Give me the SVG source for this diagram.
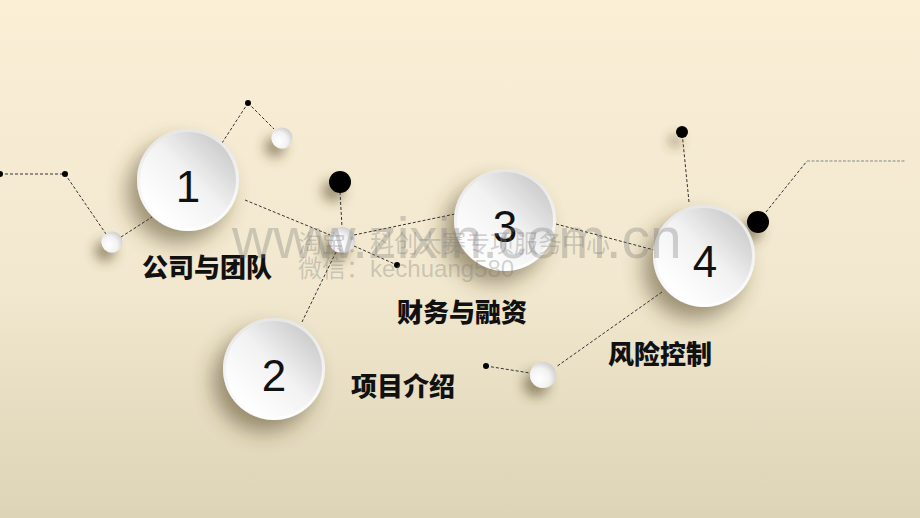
<svg xmlns="http://www.w3.org/2000/svg" width="920" height="518" viewBox="0 0 920 518">
<defs>
<linearGradient id="bg" x1="0" y1="0" x2="0" y2="1">
<stop offset="0" stop-color="#FBEFD6"/>
<stop offset="0.55" stop-color="#F1E8CF"/>
<stop offset="1" stop-color="#DDD3B6"/>
</linearGradient>
<linearGradient id="rim" x1="0" y1="0" x2="0" y2="1">
<stop offset="0" stop-color="#E6E6E6"/>
<stop offset="1" stop-color="#FFFFFF"/>
</linearGradient>
<linearGradient id="face" x1="0.15" y1="0.85" x2="0.9" y2="0.1">
<stop offset="0" stop-color="#FFFFFF"/>
<stop offset="0.5" stop-color="#F2F2F2"/>
<stop offset="1" stop-color="#C9C9C9"/>
</linearGradient>
<radialGradient id="ball" cx="0.35" cy="0.65" r="0.75">
<stop offset="0" stop-color="#FFFFFF"/>
<stop offset="0.55" stop-color="#F2F2F2"/>
<stop offset="1" stop-color="#C8C8C8"/>
</radialGradient>
<filter id="sh" x="-60%" y="-60%" width="220%" height="220%">
<feGaussianBlur in="SourceAlpha" stdDeviation="10"/>
<feOffset dx="-10" dy="12" result="b"/>
<feFlood flood-color="#4A3C1E" flood-opacity="0.5"/>
<feComposite in2="b" operator="in" result="s"/>
<feMerge><feMergeNode in="s"/><feMergeNode in="SourceGraphic"/></feMerge>
</filter>
<filter id="shs" x="-150%" y="-150%" width="400%" height="400%">
<feGaussianBlur in="SourceAlpha" stdDeviation="6"/>
<feOffset dx="-7" dy="9" result="b"/>
<feFlood flood-color="#4A3C1E" flood-opacity="0.5"/>
<feComposite in2="b" operator="in" result="s"/>
<feMerge><feMergeNode in="s"/><feMergeNode in="SourceGraphic"/></feMerge>
</filter>
</defs>
<style>
.ln{stroke:#333;stroke-width:1;stroke-dasharray:3 2;fill:none}
.lg{stroke:#888;stroke-width:1.2;stroke-dasharray:3 1.5;fill:none}
.num{font-family:"Liberation Sans",Arial,sans-serif;font-size:44px;fill:#111;text-anchor:middle}
.lbl{font-family:"Noto Sans CJK SC","Noto Sans",sans-serif;font-size:26px;font-weight:900;fill:#111}
.dot{fill:#000}
.wm{fill:#777;fill-opacity:0.32;font-family:"Liberation Sans","Noto Sans CJK SC",sans-serif}
</style>
<rect width="920" height="518" fill="url(#bg)"/>
<g id="connectors">
<polyline class="ln" points="0,174 65,174 106,234"/>
<line class="ln" x1="121" y1="237" x2="152" y2="217"/>
<line class="ln" x1="222" y1="143" x2="248" y2="103"/>
<line class="ln" x1="248" y1="103" x2="274" y2="129"/>
<line class="ln" x1="245" y1="200" x2="330" y2="235"/>
<line class="ln" x1="340" y1="192" x2="342" y2="227"/>
<line class="ln" x1="354" y1="235" x2="455" y2="214"/>
<line class="ln" x1="354" y1="246" x2="397" y2="265"/>
<line class="ln" x1="336" y1="252" x2="302" y2="322"/>
<line class="ln" x1="556" y1="224" x2="654" y2="250"/>
<line class="ln" x1="689" y1="202" x2="682" y2="132"/>
<line class="ln" x1="766" y1="212" x2="807" y2="161"/>
<line class="lg" x1="807" y1="161" x2="905" y2="161"/>
<line class="ln" x1="662" y1="292" x2="556" y2="367"/>
<line class="ln" x1="486" y1="366" x2="530" y2="373"/>
</g>
<g id="dots">
<circle class="dot" cx="0" cy="174" r="3"/>
<circle class="dot" cx="65" cy="174" r="3"/>
<circle class="dot" cx="248" cy="103" r="3"/>
<circle class="dot" cx="397" cy="265" r="3"/>
<circle class="dot" cx="486" cy="366" r="3"/>
<circle class="dot" cx="682" cy="132" r="6" filter="url(#shs)"/>
<circle class="dot" cx="340" cy="182" r="11" filter="url(#shs)"/>
<circle class="dot" cx="758" cy="222" r="11" filter="url(#shs)"/>
</g>
<g id="balls">
<circle cx="282" cy="138" r="10.5" fill="url(#ball)" filter="url(#shs)"/>
<circle cx="112" cy="242" r="10.5" fill="url(#ball)" filter="url(#shs)"/>
<circle cx="342" cy="240" r="13" fill="url(#ball)" filter="url(#shs)"/>
<circle cx="543" cy="375" r="13" fill="url(#ball)" filter="url(#shs)"/>
</g>
<g id="node1">
<circle cx="188" cy="180" r="51" fill="url(#rim)" filter="url(#sh)"/>
<circle cx="188" cy="180" r="48" fill="url(#face)"/>
<text class="num" x="188" y="202">1</text>
<text class="lbl" x="142" y="277">公司与团队</text>
</g>
<g id="node2">
<circle cx="274" cy="369" r="51" fill="url(#rim)" filter="url(#sh)"/>
<circle cx="274" cy="369" r="48" fill="url(#face)"/>
<text class="num" x="274" y="391">2</text>
<text class="lbl" x="351" y="396">项目介绍</text>
</g>
<g id="node3">
<circle cx="505" cy="220" r="51" fill="url(#rim)" filter="url(#sh)"/>
<circle cx="505" cy="220" r="48" fill="url(#face)"/>
<text class="num" x="505" y="242">3</text>
<text class="lbl" x="397" y="322">财务与融资</text>
</g>
<g id="node4">
<circle cx="704" cy="256" r="51" fill="url(#rim)" filter="url(#sh)"/>
<circle cx="704" cy="256" r="48" fill="url(#face)"/>
<text class="num" x="705" y="277">4</text>
<text class="lbl" x="608" y="364">风险控制</text>
</g>
<g id="watermark">
<text class="wm" x="232" y="258" font-size="57">www.zixin.com.cn</text>
<text class="wm" x="298" y="252" font-size="24" font-family="Noto Sans CJK SC,sans-serif">淘宝：科创大赛专项服务中心</text>
<text class="wm" x="298" y="277" font-size="24" font-family="Noto Sans CJK SC,sans-serif">微信：kechuang580</text>
</g>
</svg>
